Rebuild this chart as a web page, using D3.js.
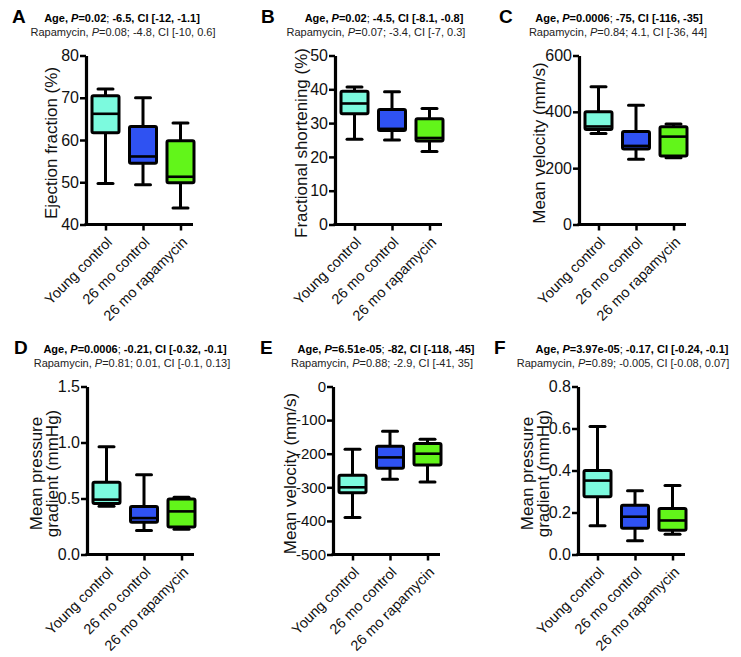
<!DOCTYPE html>
<html><head><meta charset="utf-8">
<script src="https://cdn.jsdelivr.net/npm/d3@7"></script>
<style>
html,body{margin:0;padding:0;background:#fff;}
svg{display:block;font-family:"Liberation Sans",Arial,sans-serif;}
</style></head>
<body><svg id="chart" width="741" height="657"></svg>
<script>
// ---- data ----
const categories = ["Young control", "26 mo control", "26 mo rapamycin"];
// five-number summaries per group: [min, Q1, median, Q3, max]
const ejectionFraction = [[49.7, 61.7, 66.2, 70.5, 72.1], [49.4, 54.5, 56.1, 63.2, 70], [43.9, 49.9, 51.3, 59.8, 64]];
const fractionalShortening = [[25.2, 32.8, 35.8, 39.4, 40.7], [25.0, 27.8, 28.3, 34.0, 39.3], [21.6, 24.7, 25.6, 31.3, 34.3]];
const mitralVelocity = [[323, 337, 348, 400, 489], [232, 268, 279, 330, 423], [237, 243, 312, 347, 357]];
const mitralGradient = [[0.43, 0.455, 0.49, 0.645, 0.962], [0.215, 0.288, 0.325, 0.428, 0.712], [0.225, 0.245, 0.385, 0.495, 0.512]];
const aorticVelocity = [[-390, -316, -300, -264, -187], [-276, -243, -211, -178, -133], [-284, -234, -200, -170, -157]];
const aorticGradient = [[0.137, 0.275, 0.352, 0.4, 0.61], [0.066, 0.125, 0.18, 0.235, 0.303], [0.097, 0.116, 0.162, 0.219, 0.328]];

const panelLetters = ["A", "B", "C", "D", "E", "F"];
const agePValues = ["0.02", "0.02", "0.0006", "0.0006", "6.51e-05", "3.97e-05"];
const ageEffects = ["-6.5, CI [-12, -1.1]", "-4.5, CI [-8.1, -0.8]", "-75, CI [-116, -35]", "-0.21, CI [-0.32, -0.1]", "-82, CI [-118, -45]", "-0.17, CI [-0.24, -0.1]"];
const rapaPValues = ["0.08", "0.07", "0.84", "0.81", "0.88", "0.89"];
const rapaEffects = ["-4.8, CI [-10, 0.6]", "-3.4, CI [-7, 0.3]", "4.1, CI [-36, 44]", "0.01, CI [-0.1, 0.13]", "-2.9, CI [-41, 35]", "-0.005, CI [-0.08, 0.07]"];
const yTitles = [["Ejection fraction (%)"], ["Fractional shortening (%)"], ["Mean velocity (mm/s)"], ["Mean pressure", "gradient (mmHg)"], ["Mean velocity (mm/s)"], ["Mean pressure", "gradient (mmHg)"]];
const yDomains = [[40, 80], [0, 50], [0, 600], [0, 1.5], [-500, 0], [0, 0.8]];
const yTickValues = [[40, 50, 60, 70, 80], [0, 10, 20, 30, 40, 50], [0, 200, 400, 600], [0, 0.5, 1.0, 1.5], [-500, -400, -300, -200, -100, 0], [0, 0.2, 0.4, 0.6, 0.8]];
const yTickFormats = ["d", "d", "d", ".1f", "d", ".1f"];
const panelData = [ejectionFraction, fractionalShortening, mitralVelocity, mitralGradient, aorticVelocity, aorticGradient];
const groupColors = ["#7CFADE", "#2F52F2", "#62F51A"];

// ---- layout ----
const layout = [
  {ax: 86, top: 55.5, bottom: 224.5, letterX: 12, line1X: 122, line2X: 123, titleOff: [29], tickFont: 16},
  {ax: 335, top: 55.5, bottom: 224.5, letterX: 261, line1X: 384, line2X: 376, titleOff: [28], tickFont: 16},
  {ax: 579, top: 55.5, bottom: 224.5, letterX: 499, line1X: 619, line2X: 618, titleOff: [34], tickFont: 16},
  {ax: 87, top: 386.5, bottom: 554.5, letterX: 14, line1X: 135, line2X: 132, titleOff: [45, 29], tickFont: 16},
  {ax: 333, top: 386.5, bottom: 554.5, letterX: 260, line1X: 386, line2X: 382, titleOff: [37], tickFont: 15},
  {ax: 578, top: 386.5, bottom: 554.5, letterX: 494, line1X: 632, line2X: 623, titleOff: [45, 29], tickFont: 16}
];
const rowTextY = [[22, 36], [353, 367]];

const svg = d3.select("#chart");

panelData.forEach((data, i) => {
  const L = layout[i];
  const row = i < 3 ? 0 : 1;
  const g = svg.append("g");

  const y = d3.scaleLinear().domain(yDomains[i]).range([L.bottom, L.top]);
  const x = d3.scalePoint().domain(categories).range([L.ax + 19.5, L.ax + 94.5]);
  const axisEnd = L.ax + 107;

  // header
  g.append("text").attr("x", L.letterX).attr("y", rowTextY[row][0] + 1)
    .attr("font-size", 19).attr("font-weight", "bold").text(panelLetters[i]);
  const t1 = g.append("text").attr("x", L.line1X).attr("y", rowTextY[row][0])
    .attr("text-anchor", "middle").attr("font-size", 11).attr("font-weight", "bold");
  t1.append("tspan").text("Age, ");
  t1.append("tspan").attr("font-style", "italic").text("P");
  t1.append("tspan").text("=" + agePValues[i]);
  t1.append("tspan").attr("font-weight", "normal").text("; ");
  t1.append("tspan").text(ageEffects[i]);
  const t2 = g.append("text").attr("x", L.line2X).attr("y", rowTextY[row][1])
    .attr("text-anchor", "middle").attr("font-size", 11).attr("fill", "#222");
  t2.append("tspan").text("Rapamycin, ");
  t2.append("tspan").attr("font-style", "italic").text("P");
  t2.append("tspan").text("=" + rapaPValues[i] + "; " + rapaEffects[i]);

  // y axis
  const fmt = d3.format(yTickFormats[i]);
  const yAxis = d3.axisLeft(y).tickValues(yTickValues[i]).tickFormat(d => fmt(d).replace("\u2212", "-"))
    .tickSizeOuter(0).tickSizeInner(6).tickPadding(1);
  const ya = g.append("g").attr("transform", `translate(${L.ax},0)`).call(yAxis);
  ya.select(".domain").attr("stroke-width", 3.2).attr("stroke", "#000");
  ya.selectAll(".tick line").attr("stroke-width", 2.5).attr("stroke", "#000");
  ya.selectAll(".tick text").attr("font-size", L.tickFont).attr("font-family", "Liberation Sans, Arial, sans-serif").attr("fill", "#111");

  // x axis
  g.append("line").attr("x1", L.ax - 1.5).attr("x2", axisEnd).attr("y1", L.bottom).attr("y2", L.bottom)
    .attr("stroke", "#000").attr("stroke-width", 3.2);
  const xAxis = d3.axisBottom(x).tickSizeOuter(0).tickSizeInner(6).tickFormat("");
  const xa = g.append("g").attr("transform", `translate(0,${L.bottom})`).call(xAxis);
  xa.select(".domain").remove();
  xa.selectAll(".tick line").attr("stroke-width", 2.5).attr("stroke", "#000");
  g.selectAll("text.cat").data(categories).enter().append("text")
    .attr("class", "cat")
    .attr("transform", d => `translate(${x(d) + 4},${L.bottom + 15}) rotate(-45)`)
    .attr("text-anchor", "end").attr("font-size", 14.5).attr("fill", "#111")
    .attr("dy", "0.35em").text(d => d);

  // y title
  const cy = (L.top + L.bottom) / 2 + 3;
  yTitles[i].forEach((line, k) => {
    g.append("text").attr("transform", `translate(${L.ax - L.titleOff[k]},${cy}) rotate(-90)`)
      .attr("text-anchor", "middle").attr("font-size", 17).attr("fill", "#111").text(line);
  });

  // boxes
  const bw = 27, cw = 15;
  data.forEach((s, j) => {
    const cx = x(categories[j]);
    const [mn, q1, md, q3, mx] = s;
    const bg = g.append("g");
    bg.append("line").attr("x1", cx).attr("x2", cx).attr("y1", y(mx)).attr("y2", y(q3))
      .attr("stroke", "#000").attr("stroke-width", 3);
    bg.append("line").attr("x1", cx).attr("x2", cx).attr("y1", y(q1)).attr("y2", y(mn))
      .attr("stroke", "#000").attr("stroke-width", 3);
    [mn, mx].forEach(v => bg.append("line").attr("x1", cx - cw / 2).attr("x2", cx + cw / 2)
      .attr("y1", y(v)).attr("y2", y(v)).attr("stroke", "#000").attr("stroke-width", 3).attr("stroke-linecap", "round"));
    bg.append("rect").attr("x", cx - bw / 2).attr("width", bw)
      .attr("y", y(q3)).attr("height", y(q1) - y(q3))
      .attr("fill", groupColors[j]).attr("stroke", "#000").attr("stroke-width", 3)
      .attr("rx", 1.5);
    bg.append("line").attr("x1", cx - bw / 2).attr("x2", cx + bw / 2)
      .attr("y1", y(md)).attr("y2", y(md)).attr("stroke", "#000").attr("stroke-width", 2.6);
  });
});
</script></body></html>
